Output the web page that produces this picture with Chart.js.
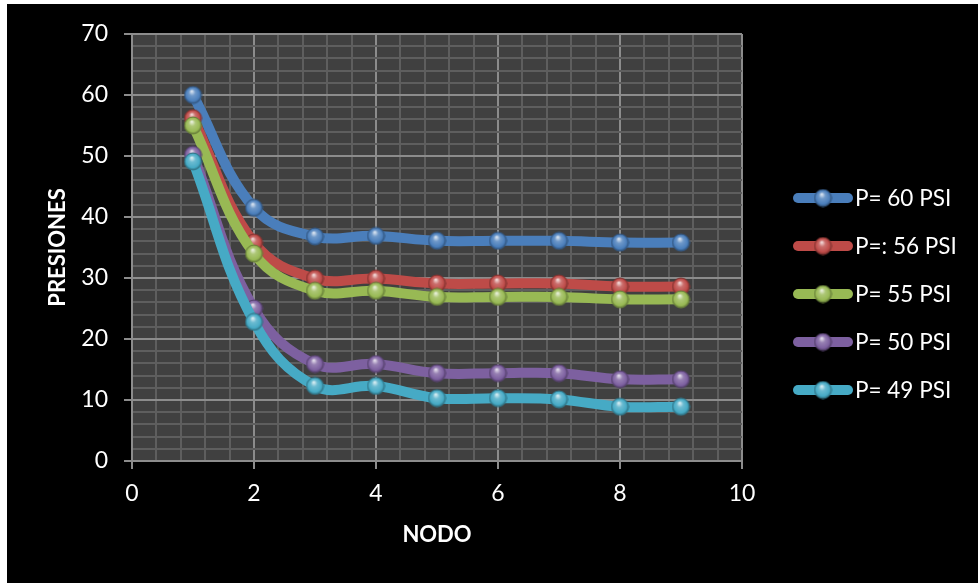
<!DOCTYPE html>
<html>
<head>
<meta charset="utf-8">
<script src="https://cdn.jsdelivr.net/npm/chart.js@4/dist/chart.umd.min.js"></script>
<style>
html,body{margin:0;padding:0;background:#000;}
#wrap{position:relative;width:978px;height:583px;}
canvas{display:block;}
</style>
</head>
<body>
<div id="wrap"><canvas id="c" width="978" height="583"></canvas></div>
<script>
// ---- data ----
const nodos = [1, 2, 3, 4, 5, 6, 7, 8, 9];
const p60 = [60.0, 41.5, 36.8, 36.9, 36.1, 36.1, 36.1, 35.8, 35.8];
const p56 = [56.2, 35.8, 29.9, 29.9, 29.1, 29.1, 29.1, 28.6, 28.6];
const p55 = [55.0, 34.0, 27.9, 27.9, 26.9, 26.9, 26.9, 26.5, 26.5];
const p50 = [50.2, 25.0, 15.9, 15.9, 14.4, 14.4, 14.4, 13.4, 13.4];
const p49 = [49.1, 22.8, 12.3, 12.3, 10.3, 10.3, 10.1, 8.9, 8.9];
const seriesLabels = ['P= 60 PSI', 'P=: 56 PSI', 'P= 55 PSI', 'P= 50 PSI', 'P= 49 PSI'];
const seriesValues = [p60, p56, p55, p50, p49];
const xTitle = 'NODO';
const yTitle = 'PRESIONES';

// ---- styles ----
const colors = ['#4A7EBB', '#BE4B48', '#98B954', '#7D60A0', '#46AAC5'];
const FONT = "Lato, 'Open Sans', sans-serif";
Chart.defaults.font.family = FONT;
Chart.defaults.color = '#ffffff';

function shade(hex, f) {
  const n = parseInt(hex.slice(1), 16);
  let r = (n >> 16) & 255, g = (n >> 8) & 255, b = n & 255;
  if (f >= 0) { r += (255 - r) * f; g += (255 - g) * f; b += (255 - b) * f; }
  else { r *= 1 + f; g *= 1 + f; b *= 1 + f; }
  return 'rgb(' + Math.round(r) + ',' + Math.round(g) + ',' + Math.round(b) + ')';
}
function ball(hex, r) {
  const s = Math.ceil(r * 2 + 2);
  const cv = document.createElement('canvas');
  cv.width = s; cv.height = s;
  const c = cv.getContext('2d');
  const cx = s / 2, cy = s / 2;
  const g = c.createRadialGradient(cx - r * 0.15, cy - r * 0.45, r * 0.05, cx, cy, r);
  g.addColorStop(0, shade(hex, 0.8));
  g.addColorStop(0.35, shade(hex, 0.2));
  g.addColorStop(0.8, hex);
  g.addColorStop(1, shade(hex, -0.35));
  c.beginPath(); c.arc(cx, cy, r, 0, Math.PI * 2);
  c.fillStyle = g; c.fill();
  c.lineWidth = 1; c.strokeStyle = shade(hex, -0.3); c.stroke();
  return cv;
}
const balls = colors.map(c => ball(c, 8.5));

const datasets = seriesValues.map((vals, i) => ({
  label: seriesLabels[i],
  data: nodos.map((n, k) => ({ x: n, y: vals[k] })),
  borderColor: colors[i],
  backgroundColor: colors[i],
  borderWidth: 10,
  borderCapStyle: 'round',
  borderJoinStyle: 'round',
  tension: 0.4,
  pointStyle: balls[i],
  pointRadius: 8.5,
  pointHoverRadius: 8.5,
  order: seriesValues.length - 1 - i
}));

const isMultiple = (v, m) => Math.abs(v / m - Math.round(v / m)) < 1e-6;

const bgPlugin = {
  id: 'bg',
  beforeDraw(chart) {
    const { ctx, chartArea: a } = chart;
    ctx.save();
    ctx.fillStyle = '#ffffff';
    ctx.fillRect(0, 0, chart.width, chart.height);
    ctx.fillStyle = '#000000';
    ctx.fillRect(7, 4, chart.width - 7, chart.height - 4);
    ctx.fillStyle = '#404040';
    ctx.fillRect(a.left, a.top, a.right - a.left, a.bottom - a.top);
    ctx.restore();
  }
};

const legendPlugin = {
  id: 'myLegend',
  afterDraw(chart) {
    const { ctx } = chart;
    ctx.save();
    chart.data.datasets.forEach((ds, i) => {
      const y = 198 + i * 48;
      ctx.beginPath();
      ctx.moveTo(798, y); ctx.lineTo(848, y);
      ctx.lineWidth = 10; ctx.lineCap = 'round';
      ctx.strokeStyle = ds.borderColor; ctx.stroke();
      ctx.drawImage(balls[i], 823 - balls[i].width / 2, y - balls[i].height / 2);
      ctx.fillStyle = '#ffffff';
      ctx.font = '22.5px ' + FONT;
      ctx.textAlign = 'left'; ctx.textBaseline = 'middle';
      ctx.fillText(ds.label, 855, y + 1);
    });
    ctx.restore();
  }
};

new Chart(document.getElementById('c'), {
  type: 'line',
  data: { datasets },
  plugins: [bgPlugin, legendPlugin],
  options: {
    responsive: false,
    animation: false,
    events: [],
    layout: { padding: { top: 34, right: 236, left: 0, bottom: 0 } },
    plugins: { legend: { display: false }, tooltip: { enabled: false } },
    scales: {
      x: {
        type: 'linear', min: 0, max: 10,
        afterFit(s) { s.height = 122; },
        ticks: {
          stepSize: 0.4, autoSkip: false, maxRotation: 0, padding: 11,
          font: { size: 23 }, color: '#ffffff',
          callback: v => isMultiple(v, 2) ? String(Math.round(v)) : ''
        },
        grid: {
          color: c => isMultiple(c.tick.value, 2) ? '#8c8c8c' : '#5e5e5e',
          tickColor: c => isMultiple(c.tick.value, 2) ? '#8c8c8c' : 'rgba(0,0,0,0)',
          tickLength: 8, lineWidth: 2
        },
        border: { color: '#8c8c8c', width: 2 },
        title: {
          display: true, text: xTitle, color: '#ffffff',
          font: { size: 22, weight: 'bold' },
          padding: { top: 0, bottom: 35 }
        }
      },
      y: {
        type: 'linear', min: 0, max: 70,
        afterFit(s) { s.width = 132; },
        ticks: {
          stepSize: 2, autoSkip: false, padding: 16,
          font: { size: 23 }, color: '#ffffff',
          callback: v => isMultiple(v, 10) ? String(Math.round(v)) : ''
        },
        grid: {
          color: c => isMultiple(c.tick.value, 10) ? '#8c8c8c' : '#5e5e5e',
          tickColor: c => isMultiple(c.tick.value, 10) ? '#8c8c8c' : 'rgba(0,0,0,0)',
          tickLength: 8, lineWidth: 2
        },
        border: { color: '#8c8c8c', width: 2 },
        title: {
          display: true, text: yTitle, color: '#ffffff',
          font: { size: 22, weight: 'bold' },
          padding: { top: 45, bottom: 0 }
        }
      }
    }
  }
});
</script>
</body>
</html>
